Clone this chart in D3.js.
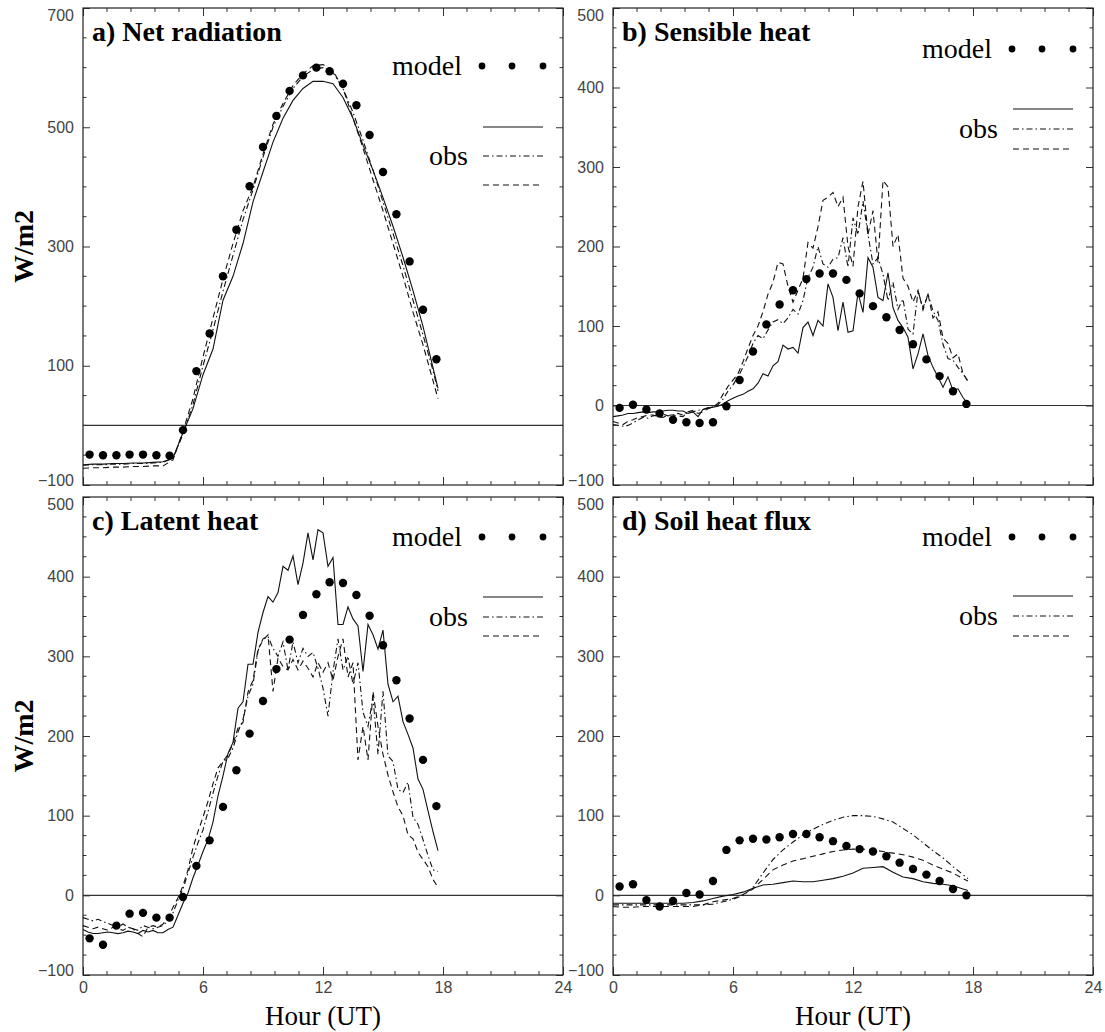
<!DOCTYPE html>
<html><head><meta charset="utf-8">
<script src="https://cdn.jsdelivr.net/npm/d3@7"></script>
<style>body{margin:0;background:#fff}</style>
</head><body>
<svg id="chart" width="1105" height="1032"></svg>
<script>
// ---------- DATA ----------
const xTicks = [0, 6, 12, 18, 24];
const yTicksA = [-100, 100, 300, 500, 700];
const yTicksBCD = [-100, 0, 100, 200, 300, 400, 500];

const hoursModel = [0.33,1.0,1.67,2.33,3.0,3.67,4.33,5.0,5.67,6.33,7.0,7.67,8.33,9.0,9.67,10.33,11.0,11.67,12.33,13.0,13.67,14.33,15.0,15.67,16.33,17.0,17.67];
const hoursHalf = [0,0.5,1,1.5,2,2.5,3,3.5,4,4.5,5,5.5,6,6.5,7,7.5,8,8.5,9,9.5,10,10.5,11,11.5,12,12.5,13,13.5,14,14.5,15,15.5,16,16.5,17,17.5,17.75];
const hoursQuarter = [0,0.25,0.5,0.75,1,1.25,1.5,1.75,2,2.25,2.5,2.75,3,3.25,3.5,3.75,4,4.25,4.5,4.75,
  5,5.25,5.5,5.75,6,6.25,6.5,6.75,7,7.25,7.5,7.75,8,8.25,8.5,8.75,9,9.25,9.5,9.75,
  10,10.25,10.5,10.75,11,11.25,11.5,11.75,12,12.25,12.5,12.75,13,13.25,13.5,13.75,14,14.25,14.5,14.75,
  15,15.25,15.5,15.75,16,16.25,16.5,16.75,17,17.25,17.5,17.75];

// a) Net radiation
const netModel = [-49,-50,-50,-49,-49,-50,-51,-8,91,154,250,328,401,467,519,561,587,600,594,573,537,487,425,354,275,194,111];
const netObsSolid = [-66,-65,-65,-64,-64,-63,-63,-62,-61,-55,-12,28,85,128,210,250,305,375,425,475,515,545,565,577,577,573,550,515,470,428,382,334,282,226,166,97,62];
const netObsDashDot = [-67,-66,-66,-65,-65,-64,-64,-63,-62,-55,-15,35,100,160,225,285,345,395,450,500,535,565,585,597,600,592,565,525,478,428,375,322,268,210,152,92,58];
const netObsDashed = [-72,-71,-71,-70,-70,-69,-69,-68,-68,-58,-10,45,115,180,245,305,360,400,455,505,540,570,590,603,605,595,565,515,465,412,360,305,250,190,135,75,45];

// b) Sensible heat
const senModel = [-3,1,-5,-10,-18,-21,-22,-21,-1,32,68,102,127,145,159,166,166,158,141,125,111,95,77,58,37,18,2];
const senObsSolid = [-14,-13,-12,-10,-10,-9,-8,-9,-8,-8,-7,-6,-6,-7,-7,-10,-8,-14,-5,-3,
  -2,-1,2,6,9,12,14,18,21,28,40,37,50,55,76,71,73,66,98,105,
  88,107,100,153,136,94,130,92,94,142,117,186,174,136,132,167,123,107,98,86,
  46,65,90,63,48,36,23,36,19,21,10,2];
const senObsDashDot = [-24,-25,-26,-25,-22,-18,-15,-16,-13,-12,-11,-13,-12,-10,-12,-9,-8,-6,-5,-3,
  -2,1,8,18,26,36,48,62,78,88,84,95,105,108,103,110,121,115,132,161,
  174,200,178,174,184,186,211,174,236,215,257,215,178,186,165,132,155,121,134,96,
  90,144,123,140,119,107,77,59,57,48,40,31];
const senObsDashed = [-20,-22,-24,-20,-18,-15,-14,-12,-12,-14,-15,-12,-12,-13,-14,-8,-6,-10,-8,-4,
  -2,3,14,24,32,40,55,72,88,100,118,140,155,180,178,150,130,145,160,205,
  198,225,258,262,268,250,262,200,175,250,282,215,245,180,283,275,200,215,160,150,
  130,145,120,140,110,118,85,78,60,65,40,30];

// c) Latent heat
const latModel = [-54,-62,-38,-23,-22,-28,-28,-2,37,69,111,157,203,244,284,321,352,378,393,392,377,351,314,270,222,170,112];
const latObsSolid = [-43,-46,-48,-48,-47,-46,-47,-48,-47,-45,-46,-48,-44,-46,-44,-47,-47,-43,-40,-25,
  -10,3,22,38,55,70,92,125,150,178,192,235,243,290,290,330,355,375,368,380,
  413,408,426,390,417,455,421,459,455,413,424,340,340,362,347,338,281,340,327,309,
  333,265,243,250,218,202,185,146,133,106,80,56];
const latObsDashDot = [-28,-30,-32,-30,-33,-35,-38,-40,-36,-40,-42,-44,-38,-40,-42,-40,-38,-32,-22,-6,
  8,28,48,66,82,105,128,150,168,172,185,205,221,250,265,307,322,325,310,300,
  318,283,318,292,310,300,305,285,260,225,281,322,283,300,265,292,230,212,248,177,
  256,175,168,133,129,142,98,89,70,50,32,30];
const latObsDashed = [-38,-40,-42,-40,-42,-44,-40,-42,-44,-40,-42,-48,-52,-40,-38,-40,-36,-28,-15,-3,
  12,32,60,80,98,118,140,160,168,177,190,210,217,255,270,309,320,327,256,298,
  287,283,296,283,294,285,274,292,280,292,270,300,322,274,292,170,212,170,256,212,
  177,151,130,111,100,76,71,54,45,36,20,10];

// d) Soil heat flux
const soilModel = [11,14,-6,-14,-7,3,1,18,57,69,71,70,73,77,77,73,68,62,58,55,49,41,33,26,18,8,0];
const soilObsSolid = [-10,-10,-10,-10,-10,-10,-10,-10,-9,-7,-4,-1,1,4,9,13,14,16,18,17,17,19,21,24,28,34,35,36,29,23,21,17,15,14,12,8,6];
const soilObsDashDot = [-12,-12,-12,-12,-12,-12,-12,-12,-12,-12,-11,-8,-5,0,10,28,45,57,67,76,83,89,94,98,100,100,99,96,92,84,76,66,56,47,36,26,21];
const soilObsDashed = [-14,-15,-15,-14,-14,-14,-14,-14,-14,-12,-8,-6,-4,1,8,20,32,38,43,46,49,52,55,57,58,58,57,55,53,51,48,44,38,33,28,21,18];

const titles = ["a) Net radiation", "b) Sensible heat", "c) Latent heat", "d) Soil heat flux"];
const yAxisTitle = "W/m2";
const xAxisTitle = "Hour (UT)";
const modelLabel = "model";
const obsLabel = "obs";

// ---------- LAYOUT ----------
const svg = d3.select("#chart");
const dashes = [null, "6,3,1.5,3", "6,4"];
const serif = "'Liberation Serif','Times New Roman',serif";
const sans = "'Liberation Sans',Arial,sans-serif";

const panels = [
  {title:titles[0], x0:83, y0:8, x1:563, y1:485, dom:[-100,700], yt:yTicksA, yMinor:50,
   t:hoursHalf, obs:[netObsSolid,netObsDashDot,netObsDashed], model:netModel, xLab:false, yTitle:true,
   leg:{dot:58, lines:[119,148,177]}},
  {title:titles[1], x0:613, y0:8, x1:1093, y1:485, dom:[-100,500], yt:yTicksBCD, yMinor:25,
   t:hoursQuarter, obs:[senObsSolid,senObsDashDot,senObsDashed], model:senModel, xLab:false, yTitle:false,
   leg:{dot:41, lines:[101,121,141]}},
  {title:titles[2], x0:83, y0:497, x1:563, y1:975, dom:[-100,500], yt:yTicksBCD, yMinor:25,
   t:hoursQuarter, obs:[latObsSolid,latObsDashDot,latObsDashed], model:latModel, xLab:true, yTitle:true,
   leg:{dot:40, lines:[100,120,139]}},
  {title:titles[3], x0:613, y0:497, x1:1093, y1:975, dom:[-100,500], yt:yTicksBCD, yMinor:25,
   t:hoursHalf, obs:[soilObsSolid,soilObsDashDot,soilObsDashed], model:soilModel, xLab:true, yTitle:false,
   leg:{dot:40, lines:[99,119,139]}}
];

panels.forEach(p => {
  const g = svg.append("g");
  const x = d3.scaleLinear().domain([0, 24]).range([p.x0, p.x1]);
  const y = d3.scaleLinear().domain(p.dom).range([p.y1, p.y0]);

  // zero line
  g.append("line").attr("x1", p.x0).attr("x2", p.x1).attr("y1", y(0)).attr("y2", y(0))
    .attr("stroke", "#333").attr("stroke-width", 1.1);

  // minor ticks
  const xMinor = d3.range(0, 24.001, 1.2).filter(v => Math.abs(v / 6 - Math.round(v / 6)) > 1e-6);
  const yMinor = d3.range(p.dom[0], p.dom[1] + 0.001, p.yMinor).filter(v => !p.yt.includes(v));
  const tickG = g.append("g").attr("stroke", "#333").attr("stroke-width", 1);
  xMinor.forEach(v => {
    tickG.append("line").attr("x1", x(v)).attr("x2", x(v)).attr("y1", p.y1).attr("y2", p.y1 - 4);
    tickG.append("line").attr("x1", x(v)).attr("x2", x(v)).attr("y1", p.y0).attr("y2", p.y0 + 4);
  });
  yMinor.forEach(v => {
    tickG.append("line").attr("x1", p.x0).attr("x2", p.x0 + 3.5).attr("y1", y(v)).attr("y2", y(v));
    tickG.append("line").attr("x1", p.x1).attr("x2", p.x1 - 3.5).attr("y1", y(v)).attr("y2", y(v));
  });

  // major axes
  const styleAxis = sel => {
    sel.select(".domain").remove();
    sel.selectAll(".tick line").attr("stroke", "#333").attr("stroke-width", 1);
    sel.selectAll(".tick text").attr("font-family", sans).attr("font-size", 16)
      .attr("fill", "#444");
  };
  const bottomAx = d3.axisBottom(x).tickValues(xTicks).tickSize(-8).tickPadding(7);
  if (!p.xLab) bottomAx.tickFormat("");
  g.append("g").attr("transform", `translate(0,${p.y1})`).call(bottomAx).call(styleAxis);
  g.append("g").attr("transform", `translate(0,${p.y0})`)
    .call(d3.axisTop(x).tickValues(xTicks).tickSize(-8).tickFormat("")).call(styleAxis);
  const leftG = g.append("g").attr("transform", `translate(${p.x0},0)`)
    .call(d3.axisLeft(y).tickValues(p.yt).tickSize(-7).tickPadding(9).tickFormat(d3.format("d")))
    .call(styleAxis);
  leftG.selectAll(".tick text").attr("dy", d => d === p.dom[1] ? "0.75em" : (d === p.dom[0] ? "0.05em" : "0.32em"));
  g.append("g").attr("transform", `translate(${p.x1},0)`)
    .call(d3.axisRight(y).tickValues(p.yt).tickSize(-7).tickFormat("")).call(styleAxis);

  // frame
  g.append("rect").attr("x", p.x0).attr("y", p.y0).attr("width", p.x1 - p.x0).attr("height", p.y1 - p.y0)
    .attr("fill", "none").attr("stroke", "#222").attr("stroke-width", 1.2);

  // obs lines
  const line = d3.line().x(d => x(d[0])).y(d => y(d[1]));
  p.obs.forEach((vals, i) => {
    g.append("path").datum(d3.zip(p.t, vals)).attr("d", line)
      .attr("fill", "none").attr("stroke", "#111").attr("stroke-width", 1.1)
      .attr("stroke-dasharray", dashes[i]);
  });

  // model dots
  g.selectAll("circle.m").data(d3.zip(hoursModel, p.model)).join("circle")
    .attr("class", "m").attr("cx", d => x(d[0])).attr("cy", d => y(d[1])).attr("r", 4.2).attr("fill", "#000");

  // legend
  const L = p.leg;
  g.append("text").attr("x", p.x1 - 101).attr("y", p.y0 + L.dot + 9).attr("text-anchor", "end")
    .attr("font-family", serif).attr("font-size", 28).text(modelLabel);
  [-81, -51, -20].forEach(dx => g.append("circle").attr("cx", p.x1 + dx).attr("cy", p.y0 + L.dot).attr("r", 3.4).attr("fill", "#000"));
  L.lines.forEach((dy, i) => {
    g.append("line").attr("x1", p.x1 - 80).attr("x2", p.x1 - 20).attr("y1", p.y0 + dy).attr("y2", p.y0 + dy)
      .attr("stroke", "#111").attr("stroke-width", 1.1).attr("stroke-dasharray", dashes[i]);
  });
  g.append("text").attr("x", p.x1 - 95).attr("y", p.y0 + L.lines[1] + 9).attr("text-anchor", "end")
    .attr("font-family", serif).attr("font-size", 28).text(obsLabel);

  // title
  g.append("text").attr("x", p.x0 + 9).attr("y", p.y0 + 33)
    .attr("font-family", serif).attr("font-weight", "bold").attr("font-size", 28).text(p.title);

  if (p.yTitle) {
    g.append("text").attr("transform", `translate(33,${(p.y0 + p.y1) / 2}) rotate(-90)`)
      .attr("text-anchor", "middle").attr("font-family", serif).attr("font-weight", "bold")
      .attr("font-size", 28).text(yAxisTitle);
  }
  if (p.xLab) {
    g.append("text").attr("x", (p.x0 + p.x1) / 2).attr("y", 1025).attr("text-anchor", "middle")
      .attr("font-family", serif).attr("font-size", 27).text(xAxisTitle);
  }
});
</script>
</body></html>
